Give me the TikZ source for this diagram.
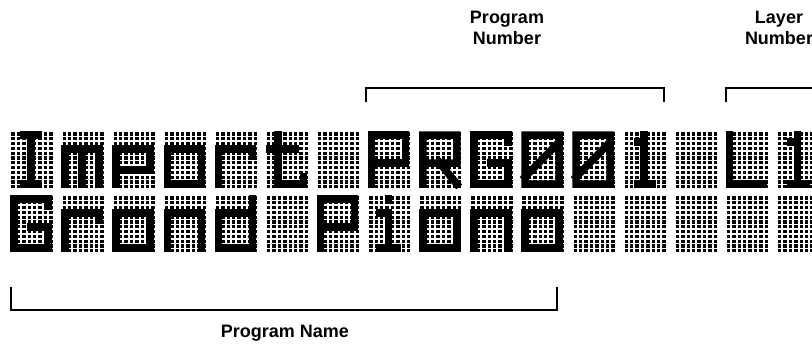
\documentclass[tikz,border=0pt]{standalone}
\usepackage{fontspec}
\newfontfamily\labelfont{Liberation Sans}
\usetikzlibrary{positioning}

% 点阵字形，单位格 4x7
\newcommand{\glyphI}{(1.2,7)--(2.8,7) (2,7)--(2,0) (1.2,0)--(2.8,0)}
\newcommand{\glyphm}{(0,0)--(0,5)--(4,5)--(4,0) (2,5)--(2,0)}
\newcommand{\glyphp}{(0,0)--(0,5)--(4,5)--(4,2)--(0,2)}
\newcommand{\glypho}{(0,0) rectangle (4,5)}
\newcommand{\glyphr}{(0,0)--(0,5)--(4,5)--(4,4)}
\newcommand{\glypht}{(1,7)--(1,0)--(4,0)--(4,1) (0,5)--(3,5)}
\newcommand{\glyphP}{(0,0)--(0,7)--(4,7)--(4,3)--(0,3)}
\newcommand{\glyphR}{(0,0)--(0,7)--(4,7)--(4,3)--(0,3) (2,3)--(4,0)}
\newcommand{\glyphG}{(4,6)--(4,7)--(0,7)--(0,0)--(4,0)--(4,3)--(2,3)}
\newcommand{\glyphZ}{(0,0) rectangle (4,7) (0,1)--(4,6)}
\newcommand{\glyphone}{(1.2,6)--(2,6) (2,7)--(2,0) (1.2,0)--(3,0)}
\newcommand{\glyphL}{(0,7)--(0,0)--(4,0)}
\newcommand{\glypha}{(0,0) rectangle (4,5)}
\newcommand{\glyphn}{(0,0)--(0,5)--(4,5)--(4,0)}
\newcommand{\glyphd}{(4,7)--(4,0)--(0,0)--(0,5)--(4,5)}
\newcommand{\glyphi}{(2,7)--(2,6.8) (1,5)--(2,5)--(2,0) (1,0)--(3,0)}

% 在第 #1 格（上沿 #2）画字形 #3
\newcommand{\lcdchar}[3]{%
  \begin{scope}[shift={({14+#1*51.1},{#2+53})}, x=8.5pt, y=7pt]
    \draw[glyph] #3;
  \end{scope}}

\begin{document}
\begin{tikzpicture}[x=1pt, y=-1pt,
  glyph/.style={line width=7.5pt, line cap=rect, line join=miter},
  lcddot/.style={fill=black},
  bracket/.style={line width=1.5pt},
  lbl/.style={font=\labelfont\bfseries\fontsize{18}{21}\selectfont, align=center}]
  \useasboundingbox (0,0) rectangle (812,360);
  \clip (0,0) rectangle (812,360);

  % 显示屏点阵
  \foreach \t in {131,195}
    \foreach \c in {0,...,15}
      \foreach \i in {0,...,7}
        \foreach \j in {0,...,11}
          \fill[lcddot] ({10+\c*51.1+1.4+\i*5.4},{\t+1.4+\j*4.8}) rectangle ++(3.4,3.1);

  % 第一行：Import PRG001 L1
  \foreach \c/\g in {0/\glyphI, 1/\glyphm, 2/\glyphp, 3/\glypho, 4/\glyphr, 5/\glypht,
                     7/\glyphP, 8/\glyphR, 9/\glyphG, 10/\glyphZ, 11/\glyphZ, 12/\glyphone,
                     14/\glyphL, 15/\glyphone}
    {\lcdchar{\c}{131}{\g}}

  % 第二行：Grand Piano
  \foreach \c/\g in {0/\glyphG, 1/\glyphr, 2/\glypha, 3/\glyphn, 4/\glyphd,
                     6/\glyphP, 7/\glyphi, 8/\glypha, 9/\glyphn, 10/\glypho}
    {\lcdchar{\c}{195}{\g}}

  % 说明文字
  \node[lbl] (pnum) at (507,28) {Program\\Number};
  \node[lbl] (lnum) at (779,28) {Layer\\Number};
  \node[lbl] (pname) at (285,333) {Program Name};

  % 括线
  \coordinate (pnA) at (366,102);
  \coordinate (pnB) at (366,88);
  \coordinate (pnC) at (664,88);
  \coordinate (pnD) at (664,102);
  \draw[bracket] (pnA) -- (pnB) -- (pnC) -- (pnD);

  \coordinate (lnA) at (726,102);
  \coordinate (lnB) at (726,88);
  \coordinate (lnC) at (820,88);
  \draw[bracket] (lnA) -- (lnB) -- (lnC);

  \coordinate (pmA) at (11,287);
  \coordinate (pmB) at (11,310);
  \coordinate (pmC) at (557,310);
  \coordinate (pmD) at (557,287);
  \draw[bracket] (pmA) -- (pmB) -- (pmC) -- (pmD);
\end{tikzpicture}
\end{document}
